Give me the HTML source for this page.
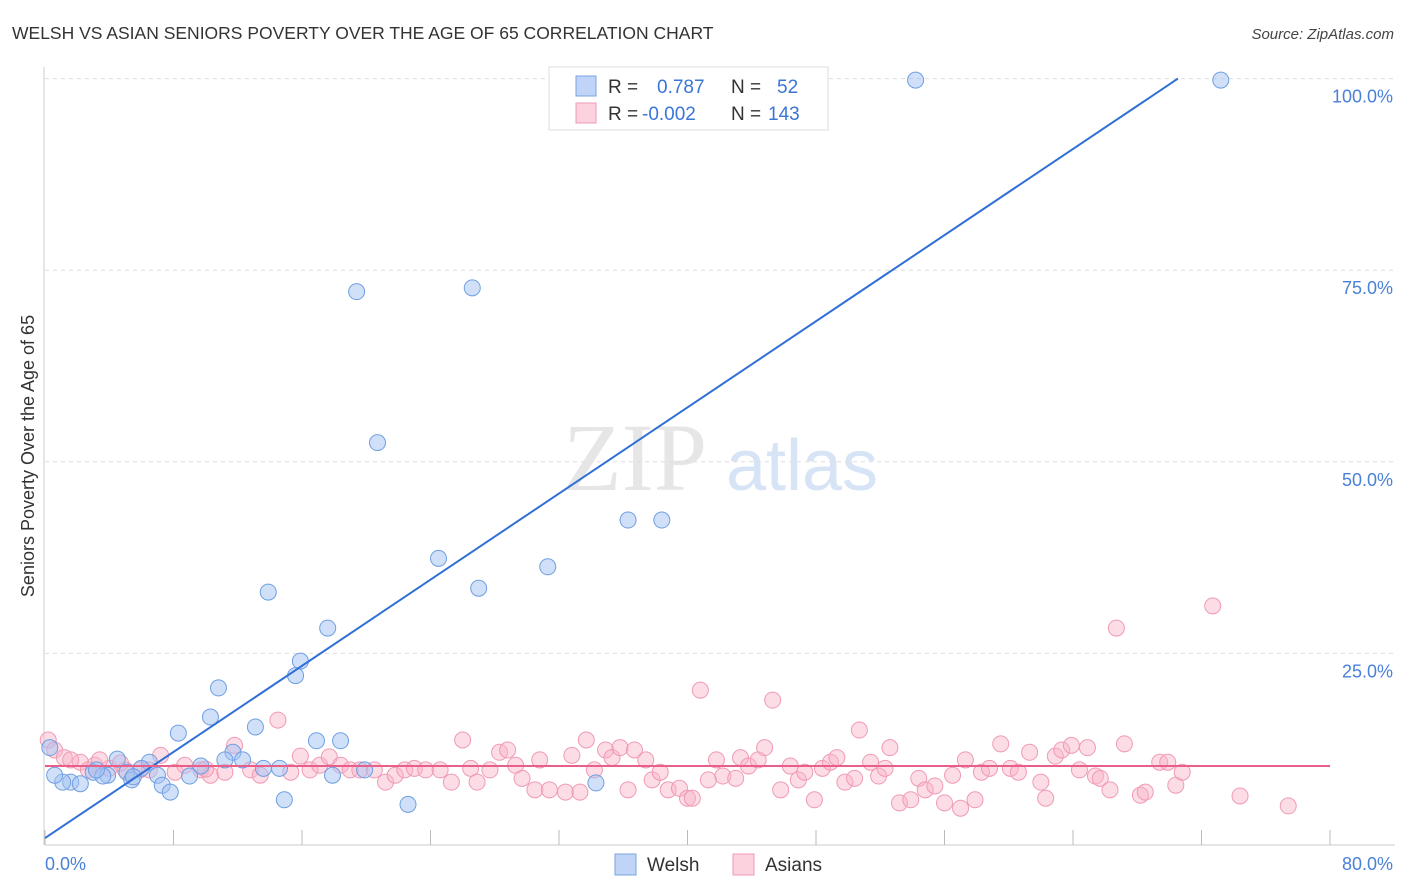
<!DOCTYPE html>
<html><head><meta charset="utf-8">
<style>
body{margin:0;background:#fff;font-family:"Liberation Sans",sans-serif;}
svg{display:block}
</style></head>
<body>
<svg id="chart" width="1406" height="892" xmlns="http://www.w3.org/2000/svg">
<text x="12" y="39" font-size="17.5" fill="#333">WELSH VS ASIAN SENIORS POVERTY OVER THE AGE OF 65 CORRELATION CHART</text>
<text x="1394" y="39" font-size="15" fill="#444" text-anchor="end" font-style="italic">Source: ZipAtlas.com</text>
<text x="34" y="456" font-size="18" fill="#333" text-anchor="middle" transform="rotate(-90 34 456)">Seniors Poverty Over the Age of 65</text>
<g>
<text x="635" y="490" font-size="96" fill="#e6e6e6" text-anchor="middle" font-family="Liberation Serif,serif">ZIP</text>
<text x="802" y="490" font-size="72" fill="#d6e4f6" text-anchor="middle">atlas</text>
</g>
<g id="grid"></g>
<g id="axes"></g>
<g id="pts"></g>
<g id="lines"></g>
<g>
<rect x="549" y="67" width="279" height="63" fill="#fff" stroke="#ddd"/>
<rect x="576" y="76" width="20" height="20" fill="#a4c2f4" fill-opacity="0.7" stroke="#7aa6e0"/>
<rect x="576" y="103" width="20" height="20" fill="#f8b4c8" fill-opacity="0.6" stroke="#f09ab5"/>
<text x="608" y="93" font-size="19" fill="#333">R = <tspan x="657" fill="#3a75d8">0.787</tspan><tspan x="731" fill="#333">N =</tspan><tspan x="777" fill="#3a75d8">52</tspan></text>
<text x="608" y="120" font-size="19" fill="#333">R = <tspan x="642" fill="#3a75d8">-0.002</tspan><tspan x="731" fill="#333">N =</tspan><tspan x="768" fill="#3a75d8">143</tspan></text>
</g>
<g>
<rect x="615" y="854" width="21" height="21" fill="#a4c2f4" fill-opacity="0.7" stroke="#7aa6e0"/>
<text x="647" y="871" font-size="19" fill="#333">Welsh</text>
<rect x="733" y="854" width="21" height="21" fill="#f8b4c8" fill-opacity="0.6" stroke="#f09ab5"/>
<text x="765" y="871" font-size="19" fill="#333">Asians</text>
</g>
</svg>
<script>
const xTicks=[0,8,16,24,32,40,48,56,64,72,80];
const yTicks=[25,50,75,100];
const yTickLabels=["25.0%","50.0%","75.0%","100.0%"];
const xEndLabels=["0.0%","80.0%"];
const welshX=[54.2,73.2,33.3,19.4,26.6,20.7,36.3,38.4,24.5,31.3,27.0,13.9,17.6,15.9,15.6,10.8,10.3,13.1,8.3,16.9,18.4,11.7,12.3,11.2,9.7,13.6,14.6,6.5,4.5,3.0,3.9,5.1,6.0,7.0,9.0,17.9,19.9,5.4,3.6,1.6,1.1,2.2,7.3,7.8,34.3,14.9,22.6,0.6,0.3,5.5,3.2];
const welshY=[99.8,99.8,100.1,72.2,72.7,52.5,42.4,42.4,37.4,36.3,33.5,33.0,28.3,24.0,22.1,20.5,16.7,15.4,14.6,13.6,13.6,12.1,11.1,11.1,10.3,10.0,10.0,10.8,11.2,9.5,9.1,9.5,10.0,9.1,9.0,9.1,9.8,8.5,9.0,8.2,8.2,8.0,7.8,6.9,8.1,5.9,5.3,9.1,12.7,8.9,9.8];
const asianX=[0.2,0.6,1.2,2.2,3.1,4.0,5.0,5.9,7.2,8.1,8.7,9.7,10.3,11.2,11.8,12.8,13.4,14.5,15.3,15.9,16.5,17.1,17.7,18.4,19.0,19.6,20.5,21.2,21.8,22.4,23.0,23.7,24.6,25.3,26.0,26.5,26.9,27.7,28.3,28.8,29.3,29.7,30.5,30.8,31.4,32.4,32.8,33.3,33.7,34.2,34.9,35.3,35.8,36.3,36.7,37.4,37.8,38.3,38.8,39.5,40.0,40.3,40.8,41.3,41.8,42.2,43.0,43.3,43.8,44.4,44.8,45.3,45.8,46.4,46.9,47.3,47.9,48.4,48.9,49.3,49.8,50.4,50.7,51.4,51.9,52.3,52.6,53.2,53.9,54.4,54.8,55.4,56.0,56.5,57.0,57.3,57.9,58.3,58.8,59.5,60.1,60.6,61.3,62.0,62.3,62.9,63.3,63.9,64.4,64.9,65.4,65.7,66.3,67.2,68.2,68.5,69.4,69.9,70.4,70.8,72.7,66.7,74.4,77.4,10.0,6.5,3.4,2.7,1.6,4.7];
const asianY=[13.7,12.4,11.4,10.8,10.4,10.0,9.8,9.8,11.7,9.5,10.4,9.8,9.1,9.5,13.0,9.8,9.1,16.3,9.5,11.6,9.8,10.4,11.5,10.4,9.8,9.8,9.8,8.2,9.1,9.8,10.0,9.8,9.8,8.2,13.7,10.0,8.2,9.8,12.1,12.4,10.4,8.7,7.2,11.1,7.2,6.9,11.7,6.9,13.7,9.8,12.4,11.4,12.7,7.2,12.4,11.1,8.5,9.5,7.2,7.4,6.1,6.1,20.2,8.5,11.1,9.0,8.7,11.4,10.3,11.1,12.7,18.9,7.2,10.3,8.5,9.5,5.9,10.0,10.8,11.4,8.2,8.7,15.0,10.8,9.0,10.0,12.7,5.5,5.9,8.7,7.2,7.7,5.5,9.1,4.8,11.1,5.9,9.5,10.0,13.2,10.0,9.5,12.1,8.2,6.1,11.6,12.4,13.0,9.8,12.7,9.0,8.7,7.2,13.2,6.5,6.9,10.8,10.8,7.8,9.5,31.2,28.3,6.4,5.1,9.9,9.8,11.1,9.8,11.1,10.7];
const welshFit=[0.9,1.405];
const asianFit=[10.3,0];
const NS="http://www.w3.org/2000/svg";
const X=v=>45+v*16.0625, Y=v=>845-v*7.664;
function mk(tag,attrs,parent){const e=document.createElementNS(NS,tag);for(const k in attrs)e.setAttribute(k,attrs[k]);document.getElementById(parent).appendChild(e);return e;}
yTicks.forEach((t,i)=>{
 const g=mk('line',{x1:45,x2:1395,y1:Y(t),y2:Y(t),stroke:'#ddd','stroke-dasharray':'4,4'},'grid');
 
 
 const l=mk('text',{x:1393,y:Y(t)+24,'font-size':18,fill:'#4a80d8','text-anchor':'end'},'grid');
 l.textContent=yTickLabels[i];
 
 
});
const ya=mk('line',{x1:44,x2:44,y1:67,y2:845,stroke:'#ccc'},'axes');


const xa=mk('line',{x1:45,x2:1395,y1:845,y2:845,stroke:'#ccc'},'axes');


xTicks.forEach(t=>{
 const k=mk('line',{x1:X(t),x2:X(t),y1:830,y2:845,stroke:'#bbb'},'axes');
 
 
});
[[0,'start',45],[80,'end',1393]].forEach((d,i)=>{
 const l=mk('text',{x:d[2],y:870,'font-size':18,fill:'#4a80d8','text-anchor':d[1]},'axes');
 l.textContent=xEndLabels[i];
 
 
});
asianX.forEach((x,i)=>{
 const c=mk('circle',{cx:X(x),cy:Y(asianY[i]),r:8,fill:'#f8b4c8','fill-opacity':0.45,stroke:'#f09ab5','stroke-width':1},'pts');
 
 
});
welshX.forEach((x,i)=>{
 const c=mk('circle',{cx:X(x),cy:Y(welshY[i]),r:8,fill:'#a4c2f4','fill-opacity':0.5,stroke:'#6f9fe0','stroke-width':1},'pts');
 
 
});
const xe=(100-welshFit[0])/welshFit[1];
const wl=mk('line',{x1:X(0),y1:Y(welshFit[0]),x2:X(xe),y2:Y(100),stroke:'#2f6fd6','stroke-width':2},'lines');


const al=mk('line',{x1:X(0),y1:Y(asianFit[0]),x2:X(80),y2:Y(asianFit[0]+asianFit[1]*80),stroke:'#e8608a','stroke-width':2},'lines');


</script>
</body></html>
